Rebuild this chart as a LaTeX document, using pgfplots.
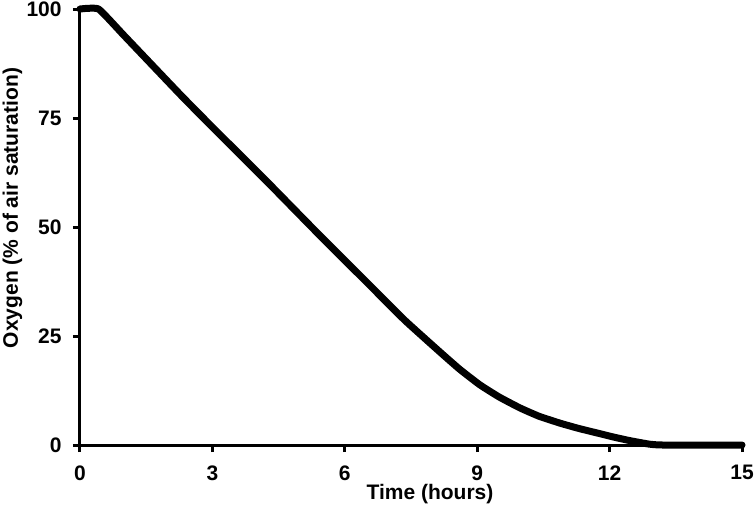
\documentclass[border=0pt]{standalone}
\usepackage{fontspec}
\setmainfont{Liberation Sans}
\usepackage{pgfplots}
\pgfplotsset{compat=1.18}
\begin{document}
\begin{tikzpicture}
\begin{axis}[
  scale only axis,
  width=331pt, height=218pt,
  xmin=0, xmax=15, ymin=0, ymax=100,
  axis lines=left,
  axis line style={-, line width=1.5pt, black},
  xtick={0,3,6,9,12,15},
  ytick={0,25,50,75,100},
  tick align=outside,
  major tick length=3.5pt,
  tick style={line width=1.5pt, black},
  /pgf/number format/assume math mode=true,
  ticklabel style={font=\bfseries\fontsize{10.5}{12}\selectfont, inner sep=0pt},
  xticklabel style={yshift=-6.5pt},
  yticklabel style={xshift=-5.5pt},
  xlabel={Time (hours)},
  ylabel={Oxygen (\% of air saturation)},
  label style={font=\bfseries\fontsize{10.5}{12}\selectfont, inner sep=0pt},
  xlabel style={at={(axis description cs:0.5287,-0.1261)}, anchor=base},
  ylabel style={at={(axis description cs:-0.0937,0.5436)}, anchor=base},
  clip=false,
]
\addplot[black, line width=3.5pt, line join=round, line cap=round, smooth, tension=0.25] coordinates {
(0,100) (0.42,100) (1.0,93.9) (2.27,80.4) (3.0,72.9) (4.19,60.9) (5.44,48.0)
(6.5,37.3) (7.36,28.6) (8.16,21.3) (8.6,17.4) (9.06,13.8) (9.5,11.0)
(9.97,8.5) (10.4,6.6) (10.88,5.0) (11.3,3.8) (11.78,2.6) (12.1,1.8)
(12.46,1.0) (12.9,0.2) (13.2,0) (15,0)
};
\end{axis}
\pgfresetboundingbox
\path ([shift={(-40pt,-35.5pt)}]current axis.south west) rectangle ([shift={(7pt,4.5pt)}]current axis.north east);
\end{tikzpicture}
\end{document}
